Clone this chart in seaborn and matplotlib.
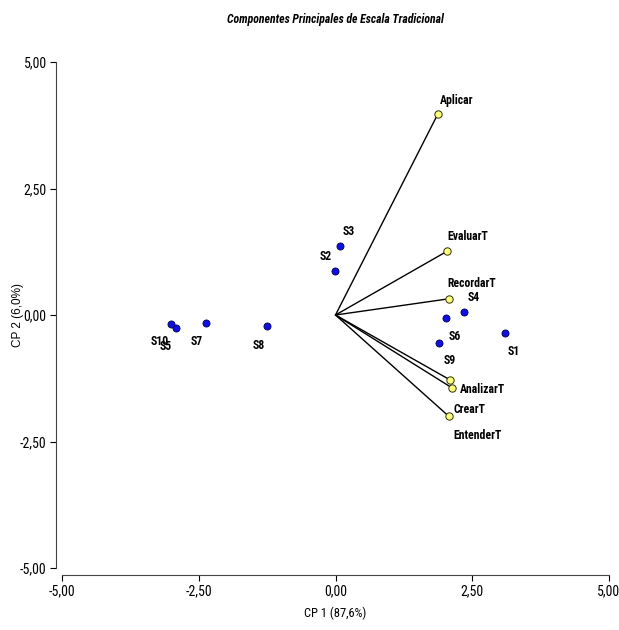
import matplotlib
matplotlib.use("Agg")
import matplotlib.pyplot as plt
import seaborn as sns
import pandas as pd
from matplotlib import font_manager

# Scores of observations (CP1, CP2)
obs_names = ["S1", "S2", "S3", "S4", "S5", "S6", "S7", "S8", "S9", "S10"]
obs_cp1 = [3.10, -0.01, 0.08, 2.35, -2.92, 2.02, -2.37, -1.25, 1.89, -3.01]
obs_cp2 = [-0.36, 0.87, 1.36, 0.06, -0.26, -0.06, -0.16, -0.22, -0.55, -0.18]

# Variable loadings (CP1, CP2)
var_names = ["Aplicar", "EvaluarT", "RecordarT", "AnalizarT", "CrearT", "EntenderT"]
var_cp1 = [1.87, 2.04, 2.07, 2.13, 2.09, 2.07]
var_cp2 = [3.97, 1.26, 0.32, -1.44, -1.28, -2.00]

ticks = [-5, -2.5, 0, 2.5, 5]
tick_labels = ["-5,00", "-2,50", "0,00", "2,50", "5,00"]

# label offsets in pixels (dx, dy)
obs_off = {"S1": (9, -18), "S2": (-9, 14), "S3": (9, 15), "S4": (10, 14), "S5": (-10, -18),
           "S6": (9, -18), "S7": (-9, -18), "S8": (-8, -19), "S9": (11, -18), "S10": (-11, -17)}
var_off = {"Aplicar": (19, 14), "EvaluarT": (21, 15), "RecordarT": (23, 15),
           "AnalizarT": (30, -2), "CrearT": (20, -30), "EntenderT": (29, -19)}

avail = {f.name for f in font_manager.fontManager.ttflist}
narrow = next((f for f in ["Liberation Sans Narrow", "Arial Narrow", "Roboto Condensed",
                           "PT Sans Narrow", "Archivo Narrow", "Asap Condensed"] if f in avail),
              "DejaVu Sans")

sns.set_style("ticks")
plt.rcParams["font.family"] = [narrow, "DejaVu Sans"]
plt.rcParams["text.color"] = "black"
plt.rcParams["xtick.color"] = "black"
plt.rcParams["ytick.color"] = "black"
plt.rcParams["axes.labelcolor"] = "black"

obs = pd.DataFrame({"name": obs_names, "x": obs_cp1, "y": obs_cp2})
var = pd.DataFrame({"name": var_names, "x": var_cp1, "y": var_cp2})

fig = plt.figure(figsize=(6.19, 6.30), dpi=100)
ax = fig.add_axes([62 / 619, 1 - 568 / 630, (609 - 62) / 619, (568 - 62) / 630])

# loading vectors from the origin
for _, r in var.iterrows():
    ax.plot([0, r["x"]], [0, r["y"]], color="black", lw=1.0, zorder=1)

sns.scatterplot(data=obs, x="x", y="y", ax=ax, color="#1010e0", edgecolor="#000050",
                s=26, linewidth=0.6, zorder=3, legend=False)
sns.scatterplot(data=var, x="x", y="y", ax=ax, color="#ffff80", edgecolor="#303000",
                s=28, linewidth=0.7, zorder=3, legend=False)

for _, r in obs.iterrows():
    dx, dy = obs_off[r["name"]]
    ax.annotate(r["name"], (r["x"], r["y"]), xytext=(dx, dy), textcoords="offset pixels",
                ha="center", va="center", fontsize=8.5, fontweight="bold")
for _, r in var.iterrows():
    dx, dy = var_off[r["name"]]
    ax.annotate(r["name"], (r["x"], r["y"]), xytext=(dx, dy), textcoords="offset pixels",
                ha="center", va="center", fontsize=8.5, fontweight="bold")

ax.set_xlim(-5, 5)
ax.set_ylim(-5, 5)
ax.set_xticks(ticks)
ax.set_xticklabels(tick_labels, fontsize=7.5)
ax.set_yticks(ticks)
ax.set_yticklabels(tick_labels, fontsize=7.5)
ax.tick_params(length=4, width=0.8, pad=3)

sns.despine(ax=ax, offset={"left": 4, "bottom": 5})
ax.spines["left"].set_color("#444444")
ax.spines["bottom"].set_color("#444444")

ax.set_xlabel("CP 1 (87,6%)", fontsize=9, labelpad=6)
ax.set_ylabel("CP 2 (6,0%)", fontsize=8.5, family=["Liberation Sans", "DejaVu Sans"])
ax.yaxis.set_label_coords(-0.07, 0.5)
ax.set_title("Componentes Principales de Escala Tradicional", fontsize=8.5,
             fontweight="bold", style="italic", pad=28)

fig.savefig("out.png", dpi=100)
